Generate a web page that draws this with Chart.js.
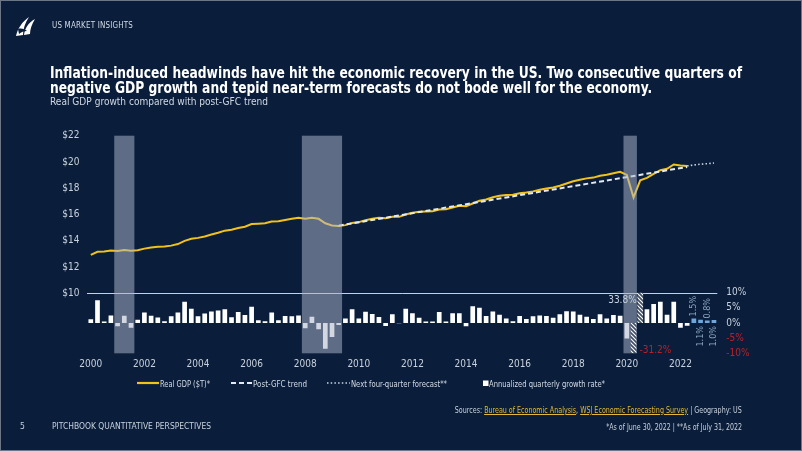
<!DOCTYPE html>
<html>
<head>
<meta charset="utf-8">
<script src="https://cdn.jsdelivr.net/npm/chart.js@4.4.0/dist/chart.umd.min.js"></script>
<style>
html, body { margin: 0; padding: 0; }
body { width: 802px; height: 451px; background: #0a1e3b; position: relative; overflow: hidden;
       font-family: "Liberation Sans Narrow", "DejaVu Sans Condensed", Roboto, sans-serif; color: #d3dae4; }
#frame { position: absolute; left: 0; top: 0; width: 800px; height: 449px; border: 1px solid #6d7686; }
#c { position: absolute; left: 0; top: 0; }
.t { position: absolute; white-space: nowrap; transform-origin: left center; }
.r { transform-origin: right center; }
#title { left: 50px; top: 65px; font-size: 16.5px; line-height: 15px; font-weight: bold; color: #fff; }
#sub { left: 50px; top: 95px; font-size: 11px; color: #d0d7e2; }
#head { left: 52px; top: 20px; font-size: 9px; letter-spacing: 0.2px; color: #d5dbe5; }
.sw { position: absolute; top: 380px; }
.lg { top: 378px; font-size: 9.5px; line-height: 12px; color: #d5dbe4; }
.foot { font-size: 8.5px; color: #c9d1dc; }
.foot a { color: #e3b838; text-decoration: underline; }
</style>
</head>
<body>
<canvas id="c" width="802" height="451"></canvas>
<div id="frame"></div>

<svg class="t" style="left:15px;top:16px" width="22" height="21" viewBox="0 0 22 21">
  <path d="M1 20 C3 12 7 6 14 1 C10 7 8 13 8 19 Z" fill="#fff"/>
  <path d="M9 19 C10 12 13 7 20 3 C17 8 15 13 15 18 Z" fill="#fff"/>
  <path d="M3 13 C6 12 10 13 12 15 C9 15 6 16 4 18 Z" fill="#0a1e3b"/>
</svg>
<div class="t" id="head" data-w="81">US MARKET INSIGHTS</div>
<div class="t" id="title" data-w="692">Inflation-induced headwinds have hit the economic recovery in the US. Two consecutive quarters of<br>negative GDP growth and tepid near-term forecasts do not bode well for the economy.</div>
<div class="t" id="sub" data-w="218">Real GDP growth compared with post-GFC trend</div>

<svg class="sw" style="left:137px" width="22" height="6"><line x1="0" y1="3" x2="22" y2="3" stroke="#f2c21b" stroke-width="2.2"/></svg>
<div class="t lg" style="left:160px" data-w="50">Real GDP ($T)*</div>
<svg class="sw" style="left:231px" width="22" height="6"><line x1="0" y1="3" x2="22" y2="3" stroke="#e5eaf0" stroke-width="2" stroke-dasharray="5 3"/></svg>
<div class="t lg" style="left:253px" data-w="54">Post-GFC trend</div>
<svg class="sw" style="left:327px" width="23" height="6"><line x1="0" y1="3" x2="23" y2="3" stroke="#c9d6e6" stroke-width="1.6" stroke-dasharray="1.5 2.2"/></svg>
<div class="t lg" style="left:351px" data-w="96">Next four-quarter forecast**</div>
<svg class="sw" style="left:483px" width="6" height="6"><rect x="0" y="0.5" width="5.5" height="5.5" fill="#fff"/></svg>
<div class="t lg" style="left:489px" data-w="116">Annualized quarterly growth rate*</div>

<div class="t r foot" style="right:60px;top:405px" data-w="287">Sources: <a>Bureau of Economic Analysis</a>, <a>WSJ Economic Forecasting Survey</a> | Geography: US</div>
<div class="t r foot" style="right:60px;top:422px" data-w="136">*As of June 30, 2022 | **As of July 31, 2022</div>
<div class="t foot" style="left:20px;top:421px">5</div>
<div class="t foot" style="left:52px;top:421px" data-w="159">PITCHBOOK QUANTITATIVE PERSPECTIVES</div>

<script>
// quarters 2000 Q1 .. 2023 Q2
var years = [2000, 2001, 2002, 2003, 2004, 2005, 2006, 2007, 2008, 2009, 2010, 2011,
             2012, 2013, 2014, 2015, 2016, 2017, 2018, 2019, 2020, 2021, 2022, 2023];
var quarters = [];
years.forEach(function (y) { [1, 2, 3, 4].forEach(function (q) { quarters.push(y + ' Q' + q); }); });
quarters = quarters.slice(0, quarters.indexOf('2023 Q2') + 1);

var xTickLabels = ['2000', '2002', '2004', '2006', '2008', '2010', '2012', '2014', '2016', '2018', '2020', '2022'];
var gdpTicks = [10, 12, 14, 16, 18, 20, 22];
var growthTicks = [-10, -5, 0, 5, 10];

// real GDP, $T, 2000 Q1 .. 2022 Q2
var gdp = [
  12.92, 13.16, 13.18, 13.26,  13.22, 13.30, 13.24, 13.28,  13.40, 13.48, 13.54, 13.56,
  13.63, 13.75, 13.99, 14.15,  14.22, 14.33, 14.47, 14.61,  14.77, 14.84, 14.97, 15.07,
  15.27, 15.30, 15.33, 15.46,  15.49, 15.58, 15.67, 15.76,  15.67, 15.75, 15.67, 15.33,
  15.16, 15.13, 15.19, 15.36,  15.42, 15.56, 15.67, 15.75,  15.71, 15.83, 15.82, 16.00,
  16.13, 16.20, 16.22, 16.24,  16.38, 16.40, 16.53, 16.66,  16.62, 16.84, 17.05, 17.14,
  17.31, 17.42, 17.49, 17.51,  17.61, 17.67, 17.76, 17.88,  17.98, 18.05, 18.19, 18.36,
  18.53, 18.65, 18.75, 18.81,  18.95, 19.02, 19.14, 19.25,  19.01, 17.30, 18.60, 18.79,
  19.09, 19.37, 19.48, 19.81,  19.73, 19.70
];

// annualized quarterly growth, %, 2000 Q1 .. 2022 Q2
var growth = [
  1.2, 7.5, 0.5, 2.5,  -1.1, 2.4, -1.6, 1.1,  3.5, 2.4, 1.8, 0.6,  2.2, 3.5, 7.0, 4.7,
  2.2, 3.1, 3.8, 4.1,  4.5, 1.9, 3.6, 2.6,  5.4, 0.9, 0.6, 3.5,  0.9, 2.3, 2.2, 2.5,
  -1.7, 2.1, -2.1, -8.5,  -4.6, -0.7, 1.5, 4.5,  1.5, 3.7, 3.0, 2.0,  -1.0, 2.9, -0.1, 4.7,
  3.2, 1.7, 0.5, 0.5,  3.6, 0.5, 3.2, 3.2,  -1.1, 5.5, 5.0, 2.3,  3.8, 2.7, 1.5, 0.6,
  2.3, 1.3, 2.2, 2.5,  2.3, 1.7, 2.9, 3.9,  3.8, 2.7, 2.1, 1.3,  2.9, 1.5, 2.6, 2.4,
  -5.1, -31.2, 33.8, 4.5,  6.3, 7.0, 2.7, 7.0,  -1.6, -0.9
];

// WSJ forecast, 2022 Q3 .. 2023 Q2
var forecastGrowth = [1.5, 1.1, 0.8, 1.0];
// forecast GDP path, 2022 Q2 (last actual) .. 2023 Q2
var forecastGdp = [19.70, 19.77, 19.83, 19.87, 19.92];

// post-GFC trend end points
var trendQuarters = ['2009 Q2', '2022 Q2'];
var trendValues = [15.15, 19.62];

var recessions = [['2001 Q1', '2001 Q3'], ['2008 Q1', '2009 Q2'], ['2020 Q1', '2020 Q2']];

var FONT = '"Liberation Sans Narrow", "DejaVu Sans Condensed", Roboto, sans-serif';
var GOLD = '#f2c21b', LIGHT = '#c9d1dc', RED = '#b4232b', BLUE = '#6fa6dc';
var CAP = 10;

// squeeze html text to the widths of the condensed original font
document.querySelectorAll('[data-w]').forEach(function (el) {
  var w = el.getBoundingClientRect().width;
  el.style.transform = 'scaleX(' + (parseFloat(el.getAttribute('data-w')) / w) + ')';
});

function padTo(arr, offset) {
  var out = quarters.map(function () { return null; });
  arr.forEach(function (v, i) { out[offset + i] = v; });
  return out;
}

var trendData = quarters.map(function () { return null; });
trendQuarters.forEach(function (q, i) { trendData[quarters.indexOf(q)] = trendValues[i]; });

var barsNormal = padTo(growth.map(function (v) { return Math.abs(v) <= CAP ? v : null; }), 0);
var barsCut = padTo(growth.map(function (v) { return Math.abs(v) > CAP ? Math.sign(v) * CAP : null; }), 0);
var barsForecast = padTo(forecastGrowth, gdp.length);

function hatch() {
  var p = document.createElement('canvas');
  p.width = 4; p.height = 4;
  var g = p.getContext('2d');
  g.fillStyle = '#425066';
  g.fillRect(0, 0, 4, 4);
  g.strokeStyle = '#ffffff';
  g.lineWidth = 1.1;
  g.beginPath();
  g.moveTo(0, 0); g.lineTo(4, 4);
  g.moveTo(-1, 3); g.lineTo(1, 5);
  g.moveTo(3, -1); g.lineTo(5, 1);
  g.stroke();
  return g.createPattern(p, 'repeat');
}

var HATCH = 5;

var overlays = {
  id: 'overlays',
  beforeDatasetDraw: function (chart, args) {
    if (args.index !== HATCH) return;
    var ctx = chart.ctx, a = chart.chartArea, x = chart.scales.x;
    var w = x.getPixelForValue(1) - x.getPixelForValue(0);
    ctx.save();
    ctx.fillStyle = 'rgba(170,180,200,0.53)';
    recessions.forEach(function (r) {
      var x0 = x.getPixelForValue(quarters.indexOf(r[0])) - w / 2;
      var x1 = x.getPixelForValue(quarters.indexOf(r[1])) + w / 2;
      ctx.fillRect(x0, a.top, x1 - x0, a.bottom - a.top);
    });
    ctx.restore();
  },
  afterDatasetsDraw: function (chart) {
    var ctx = chart.ctx, x = chart.scales.x, y1 = chart.scales.y1;
    ctx.save();
    ctx.font = '10px ' + FONT;
    ctx.textBaseline = 'middle';
    var iUp = growth.findIndex(function (v) { return v > CAP; });
    var iDn = growth.findIndex(function (v) { return v < -CAP; });
    ctx.fillStyle = LIGHT;
    ctx.textAlign = 'right';
    ctx.fillText(growth[iUp].toFixed(1) + '%', x.getPixelForValue(iUp) - 3.5, y1.getPixelForValue(CAP) + 8);
    ctx.fillStyle = RED;
    ctx.textAlign = 'left';
    ctx.fillText(growth[iDn].toFixed(1) + '%', x.getPixelForValue(iDn) + 6, y1.getPixelForValue(-CAP) - 3);

    ctx.font = '9px ' + FONT;
    ctx.fillStyle = '#8ea6c2';
    forecastGrowth.forEach(function (v, i) {
      var px = x.getPixelForValue(gdp.length + i);
      ctx.save();
      if (i % 2 === 0) {
        ctx.translate(px, y1.getPixelForValue(v) - 2);
        ctx.rotate(-Math.PI / 2);
        ctx.textAlign = 'left';
      } else {
        ctx.translate(px, y1.getPixelForValue(0) + 3);
        ctx.rotate(-Math.PI / 2);
        ctx.textAlign = 'right';
      }
      ctx.fillText(v.toFixed(1) + '%', 0, 0);
      ctx.restore();
    });
    ctx.restore();
  }
};

Chart.defaults.font.family = FONT;

new Chart(document.getElementById('c').getContext('2d'), {
  type: 'bar',
  data: {
    labels: quarters,
    datasets: [{
      type: 'line', label: 'Post-GFC trend', data: trendData, yAxisID: 'y', spanGaps: true,
      borderColor: '#e5eaf0', borderWidth: 2, borderDash: [5, 3], pointRadius: 0, order: 2
    }, {
      type: 'line', label: 'Real GDP ($T)*', data: padTo(gdp, 0), yAxisID: 'y',
      borderColor: GOLD, borderWidth: 2, pointRadius: 0, tension: 0, order: 3
    }, {
      type: 'line', label: 'Next four-quarter forecast**', data: padTo(forecastGdp, gdp.length - 1), yAxisID: 'y',
      borderColor: '#c9d6e6', borderWidth: 1.6, borderDash: [1.5, 2.2], pointRadius: 0, order: 2
    }, {
      label: 'Annualized quarterly growth rate*', data: barsNormal, yAxisID: 'y1',
      backgroundColor: '#ffffff', barPercentage: 0.7, categoryPercentage: 1, grouped: false, order: 4
    }, {
      label: 'Forecast growth', data: barsForecast, yAxisID: 'y1',
      backgroundColor: BLUE, barPercentage: 0.7, categoryPercentage: 1, grouped: false, order: 1
    }, {
      label: 'Off-scale growth', data: barsCut, yAxisID: 'y1',
      backgroundColor: hatch(), barPercentage: 0.85, categoryPercentage: 1, grouped: false, order: 0
    }]
  },
  options: {
    responsive: false,
    animation: false,
    layout: { padding: { top: 135.7, left: 40, right: 0, bottom: 0 } },
    plugins: { legend: { display: false }, tooltip: { enabled: false } },
    scales: {
      x: {
        offset: true,
        grid: { display: false, drawTicks: false },
        border: { display: false },
        ticks: {
          autoSkip: false, maxRotation: 0, minRotation: 0, padding: 5,
          color: LIGHT, font: { size: 10 },
          callback: function (value, index) {
            var q = quarters[index];
            var yr = q.slice(0, 4);
            return q.slice(-2) === 'Q1' && xTickLabels.indexOf(yr) >= 0 ? yr : null;
          }
        },
        afterFit: function (s) { s.height = 97.7; }
      },
      y: {
        position: 'left', min: 5.43, max: 22,
        afterBuildTicks: function (s) { s.ticks = gdpTicks.map(function (v) { return { value: v }; }); },
        grid: {
          drawTicks: false, lineWidth: 1,
          color: function (c) { return c.tick && c.tick.value === 10 ? '#c8d0db' : 'rgba(0,0,0,0)'; }
        },
        border: { display: false },
        ticks: { padding: 8, color: LIGHT, font: { size: 10 }, callback: function (v) { return '$' + v; } },
        afterFit: function (s) { s.width = 47.45; }
      },
      y1: {
        position: 'right', min: -10, max: 61.8,
        afterBuildTicks: function (s) { s.ticks = growthTicks.map(function (v) { return { value: v }; }); },
        grid: { display: false, drawTicks: false },
        border: { display: false },
        ticks: {
          padding: 9, font: { size: 10 },
          color: function (c) { return c.tick && c.tick.value < 0 ? RED : LIGHT; },
          callback: function (v) { return v + '%'; }
        },
        afterFit: function (s) { s.width = 84.7; }
      }
    }
  },
  plugins: [overlays]
});
</script>
</body>
</html>
